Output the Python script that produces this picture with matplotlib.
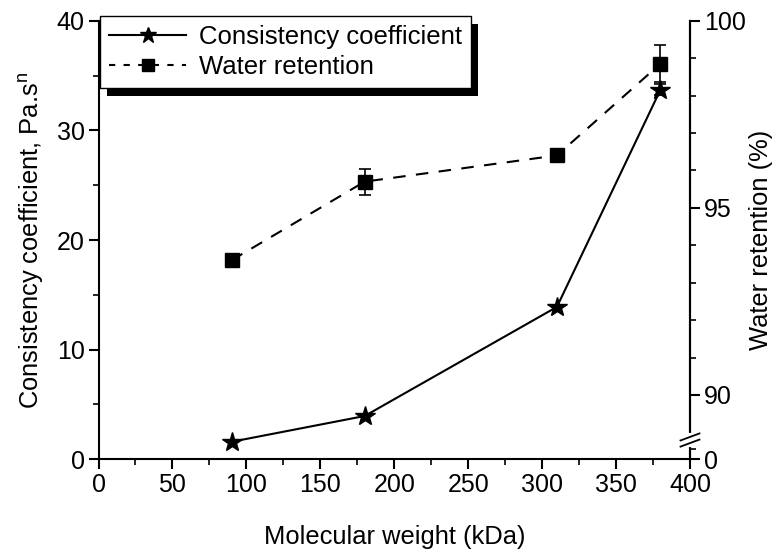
import matplotlib
matplotlib.use("Agg")
import matplotlib.pyplot as plt
from matplotlib.patches import Rectangle
from matplotlib.lines import Line2D

plt.rcParams['font.family'] = ['Liberation Sans', 'DejaVu Sans']
plt.rcParams['font.size'] = 18

# datos
mw = [90, 180, 310, 380]
consistency = [1.6, 3.95, 13.9, 33.7]
consistency_err = [0, 0, 0, 0.5]
water = [93.6, 95.7, 96.4, 98.85]
water_err = [0, 0.35, 0, 0.5]

fig = plt.figure(figsize=(7.8, 5.54), dpi=100)
ax = fig.add_axes([0.1263, 0.1709, 0.7583, 0.7917])
ax2 = ax.twinx()

ax.errorbar(mw, consistency, yerr=consistency_err, color='black', lw=1.5,
            marker='*', ms=15, capsize=4, elinewidth=1.2, capthick=1.2,
            label='Consistency coefficient')
ax2.errorbar(mw, water, yerr=water_err, color='black', lw=1.5, ls=(0, (6, 5)),
             marker='s', ms=10, capsize=4, elinewidth=1.2, capthick=1.2,
             label='Water retention')

ax.set_xlim(0, 400)
ax.set_ylim(0, 40)
ax.set_xticks(range(0, 401, 50))
ax.set_xticks(range(25, 400, 50), minor=True)
ax.set_yticks(range(0, 41, 10))
ax.set_yticks(range(5, 40, 10), minor=True)

# eje derecho con rotura: 0 abajo y luego 88.3 - 100
bottom = 88.28
ax2.set_ylim(bottom, 100)
ax2.set_yticks([bottom, 90, 95, 100])
ax2.set_yticklabels(['0', '90', '95', '100'])
ax2.set_yticks([88.55, 91, 92, 93, 94, 96, 97, 98, 99], minor=True)

for a in (ax, ax2):
    a.spines['top'].set_visible(False)
    for s in a.spines.values():
        s.set_linewidth(1.5)
    a.tick_params(which='major', direction='out', length=7, width=1.5, pad=3)
    a.tick_params(which='minor', direction='out', length=4, width=1.2)
ax2.spines['left'].set_visible(False)
ax2.spines['bottom'].set_visible(False)

ax.set_xlabel('Molecular weight (kDa)', labelpad=20, fontsize=18.4)
ax.set_ylabel('Consistency coefficient, Pa.s$^\\mathregular{n}$', labelpad=8, fontsize=18.4)
ax2.set_ylabel('Water retention (%)', labelpad=2, fontsize=18.4)

# marcas de rotura
yb = 0.044
ax2.plot([1, 1], [yb - 0.012, yb + 0.012], transform=ax2.transAxes, color='white',
         lw=3, clip_on=False, zorder=10)
for dy in (-0.007, 0.007):
    ax2.plot([1 - 0.016, 1 + 0.016], [yb + dy - 0.008, yb + dy + 0.008],
             transform=ax2.transAxes, color='black', lw=1.3, clip_on=False, zorder=11)

handles = [Line2D([], [], color='black', lw=1.5, marker='*', ms=12),
           Line2D([], [], color='black', lw=1.5, ls=(0, (3, 4)), marker='s', ms=8)]
leg = ax2.legend(handles, ['Consistency coefficient', 'Water retention'],
                 loc='upper left', bbox_to_anchor=(100 / 780, 1 - 15.7 / 554),
                 bbox_transform=fig.transFigure, fancybox=False, framealpha=1,
                 edgecolor='black', borderpad=0.35, labelspacing=0.25,
                 handlelength=3.0, handletextpad=0.5, borderaxespad=0,
                 fontsize=18.5)
leg.get_frame().set_linewidth(1.0)
leg.set_zorder(20)

fig.canvas.draw()
bb = leg.get_frame().get_window_extent()
shadow = Rectangle((bb.x0 + 7, bb.y0 - 8), bb.width, bb.height, transform=None,
                   facecolor='black', edgecolor='none', zorder=19, clip_on=False)
ax2.add_artist(shadow)

fig.savefig('out.png', dpi=100)
